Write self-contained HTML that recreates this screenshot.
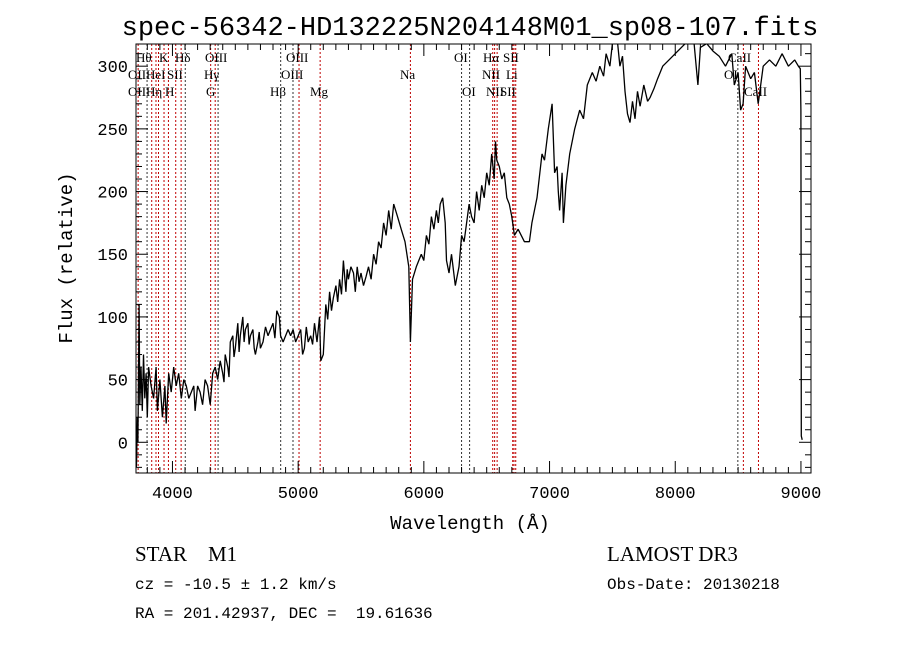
<!DOCTYPE html>
<html><head><meta charset="utf-8"><style>
body{margin:0;background:#fff;}
svg{display:block;font-family:"Liberation Serif",serif;}
.mono{font-family:"Liberation Mono",monospace;}
</style></head><body>
<svg id="chart" width="900" height="649" viewBox="0 0 900 649" xmlns="http://www.w3.org/2000/svg">
<rect width="900" height="649" fill="#fff"/>
<text class="mono" x="470" y="35" font-size="27" text-anchor="middle">spec-56342-HD132225N204148M01_sp08-107.fits</text>
<defs><clipPath id="clip"><rect x="136" y="44" width="675" height="429"/></clipPath></defs>
<g id="lines"></g>
<g id="linelabels" font-size="13"></g>
<g id="ticks"></g>
<path id="spec" fill="none" stroke="#000" stroke-width="1.3" stroke-linejoin="bevel" clip-path="url(#clip)"/>
<rect x="136" y="44" width="675" height="429" fill="none" stroke="#000" stroke-width="1"/>
<text class="mono" x="470" y="529" font-size="19" text-anchor="middle">Wavelength (Å)</text>
<text class="mono" x="0" y="0" font-size="19" text-anchor="middle" transform="translate(72,258) rotate(-90)">Flux (relative)</text>
<text x="135" y="561" font-size="21" xml:space="preserve">STAR    M1</text>
<text x="607" y="561" font-size="21">LAMOST DR3</text>
<text class="mono" x="135" y="589" font-size="16">cz = -10.5 ± 1.2 km/s</text>
<text class="mono" x="607" y="589" font-size="16">Obs-Date: 20130218</text>
<text class="mono" x="135" y="618" font-size="16" xml:space="preserve">RA = 201.42937, DEC =  19.61636</text>
</svg>
<script>
const wavelengths=[3712,3715,3720,3725,3735,3740,3750,3760,3770,3780,3790,3800,3810,3830,3850,3870,3880,3900,3920,3940,3950,3970,3990,4010,4030,4050,4070,4090,4110,4130,4150,4170,4180,4200,4220,4240,4260,4280,4300,4320,4340,4360,4380,4400,4410,4420,4440,4450,4460,4480,4490,4500,4520,4530,4540,4560,4570,4580,4600,4610,4620,4640,4650,4660,4680,4690,4700,4720,4740,4760,4780,4800,4815,4830,4850,4860,4880,4900,4920,4940,4960,4980,5000,5020,5035,5050,5065,5080,5100,5115,5130,5150,5170,5180,5200,5220,5235,5250,5265,5280,5300,5315,5330,5345,5360,5380,5390,5400,5420,5440,5455,5470,5485,5500,5520,5540,5560,5580,5600,5620,5640,5660,5680,5700,5720,5740,5760,5790,5820,5850,5880,5893,5910,5940,5980,6000,6020,6040,6060,6080,6100,6115,6130,6150,6170,6180,6200,6220,6250,6280,6300,6320,6340,6360,6380,6400,6420,6440,6460,6480,6500,6520,6540,6560,6570,6580,6600,6620,6640,6660,6680,6700,6720,6750,6800,6840,6860,6900,6940,6960,6990,7020,7040,7060,7070,7080,7100,7110,7130,7160,7200,7240,7270,7300,7340,7370,7400,7430,7450,7480,7500,7540,7560,7580,7600,7620,7640,7660,7680,7700,7720,7750,7780,7800,7830,7860,7900,7950,8000,8060,8100,8150,8180,8200,8250,8300,8350,8400,8450,8470,8500,8520,8540,8560,8600,8630,8660,8700,8750,8800,8850,8900,8950,8980,8995,9000,9003,9010];
const fluxes=[-20,-15,20,0,110,30,60,25,70,35,55,20,60,45,35,60,25,50,20,45,15,55,40,60,45,55,35,50,45,35,40,45,25,45,40,30,50,45,30,55,60,50,65,55,48,70,60,52,80,85,68,75,95,72,85,100,80,90,95,78,85,90,75,70,80,88,75,80,92,85,90,95,83,105,100,85,80,85,90,85,90,80,85,90,70,75,92,80,85,78,95,80,100,65,70,110,98,120,105,115,125,112,130,118,145,120,138,130,140,135,120,140,128,135,125,132,140,130,150,142,160,155,175,165,185,170,190,180,170,160,140,80,130,140,150,145,165,158,180,170,185,175,190,195,175,145,135,150,125,140,165,160,175,190,180,175,200,185,205,195,215,205,230,210,240,225,220,210,215,195,190,180,165,170,160,160,175,195,230,225,250,270,215,220,200,185,215,175,205,230,250,265,258,285,295,288,300,292,310,300,318,320,300,308,280,262,255,272,258,280,268,285,272,275,282,290,300,305,310,316,320,318,285,315,318,312,308,300,310,285,295,265,270,300,290,295,270,300,305,300,310,300,305,300,298,265,5,2];
const lineWaves=[3727,3798,3835,3869,3889,3933,3968,4026,4069,4102,4304,4340,4363,4861,4959,5007,5175,5893,6300,6364,6548,6563,6583,6707,6717,6731,8498,8542,8662];
const xTicks=[4000,5000,6000,7000,8000,9000];
const yTicks=[0,50,100,150,200,250,300];
const X0=136,X1=811,Y0=44,Y1=473,XMIN=3710,XMAX=9080,YMIN=-24.5,YMAX=317.7;
function sx(l){return X0+(l-XMIN)/(XMAX-XMIN)*(X1-X0);}
function sy(f){return Y1-(f-YMIN)/(YMAX-YMIN)*(Y1-Y0);}
const NS="http://www.w3.org/2000/svg";
function mk(t,a,p){const e=document.createElementNS(NS,t);for(const k in a)e.setAttribute(k,a[k]);p.appendChild(e);return e;}
let d="";
wavelengths.forEach((w,i)=>{d+=(i?"L":"M")+sx(w).toFixed(1)+" "+sy(fluxes[i]).toFixed(1);});
document.getElementById("spec").setAttribute("d",d);
const lg=document.getElementById("lines");
const darkLines=[3798,4102,4363,4861,4959,6300,6364,8498];
lineWaves.forEach(w=>{
  const ln=mk("line",{x1:sx(w),x2:sx(w),y1:Y0,y2:Y1,stroke:darkLines.includes(w)?"#333":"#c00000","stroke-width":1,"stroke-dasharray":"2,2"},lg);
  
  
});
const labels=[["Hθ",136,62],["K",159,62],["Hδ",175,62],["OIII",205,62],["OIII",286,62],["OI",454,62],["Hα",483,62],["SII",503,62],["CaII",728,62],
["OII",128,79],["HeI",146,79],["SII",167,79],["Hγ",204,79],["OIII",281,79],["Na",400,79],["NII",482,79],["Li",506,79],["OI",724,79],
["OII",128,96],["Hη",146,96],["H",165,96],["G",206,96],["Hβ",270,96],["Mg",310,96],["OI",462,96],["NII",486,96],["SII",500,96],["CaII",744,96]];
const llg=document.getElementById("linelabels");
labels.forEach(l=>{
  const t=mk("text",{x:l[1],y:l[2]},llg);t.textContent=l[0];
  
  
});
const tg=document.getElementById("ticks");
for(let w=3800;w<=9000;w+=100){
  const maj=w%1000===0,len=maj?12:6;
  mk("line",{x1:sx(w),x2:sx(w),y1:Y1,y2:Y1-len,stroke:"#000"},tg);
  mk("line",{x1:sx(w),x2:sx(w),y1:Y0,y2:Y0+len,stroke:"#000"},tg);
}
for(let f=-20;f<=310;f+=10){
  const maj=f%50===0,len=maj?12:6;
  mk("line",{x1:X0,x2:X0+len,y1:sy(f),y2:sy(f),stroke:"#000"},tg);
  mk("line",{x1:X1,x2:X1-len,y1:sy(f),y2:sy(f),stroke:"#000"},tg);
}
xTicks.forEach(v=>{
  const t=mk("text",{x:sx(v),y:Y1+25,"text-anchor":"middle","font-size":17,"class":"mono"},tg);t.textContent=v;
  
  
});
yTicks.forEach(v=>{
  const t=mk("text",{x:X0-8,y:sy(v)+6,"text-anchor":"end","font-size":17,"class":"mono"},tg);t.textContent=v;
  
  
});
</script>
</body></html>
